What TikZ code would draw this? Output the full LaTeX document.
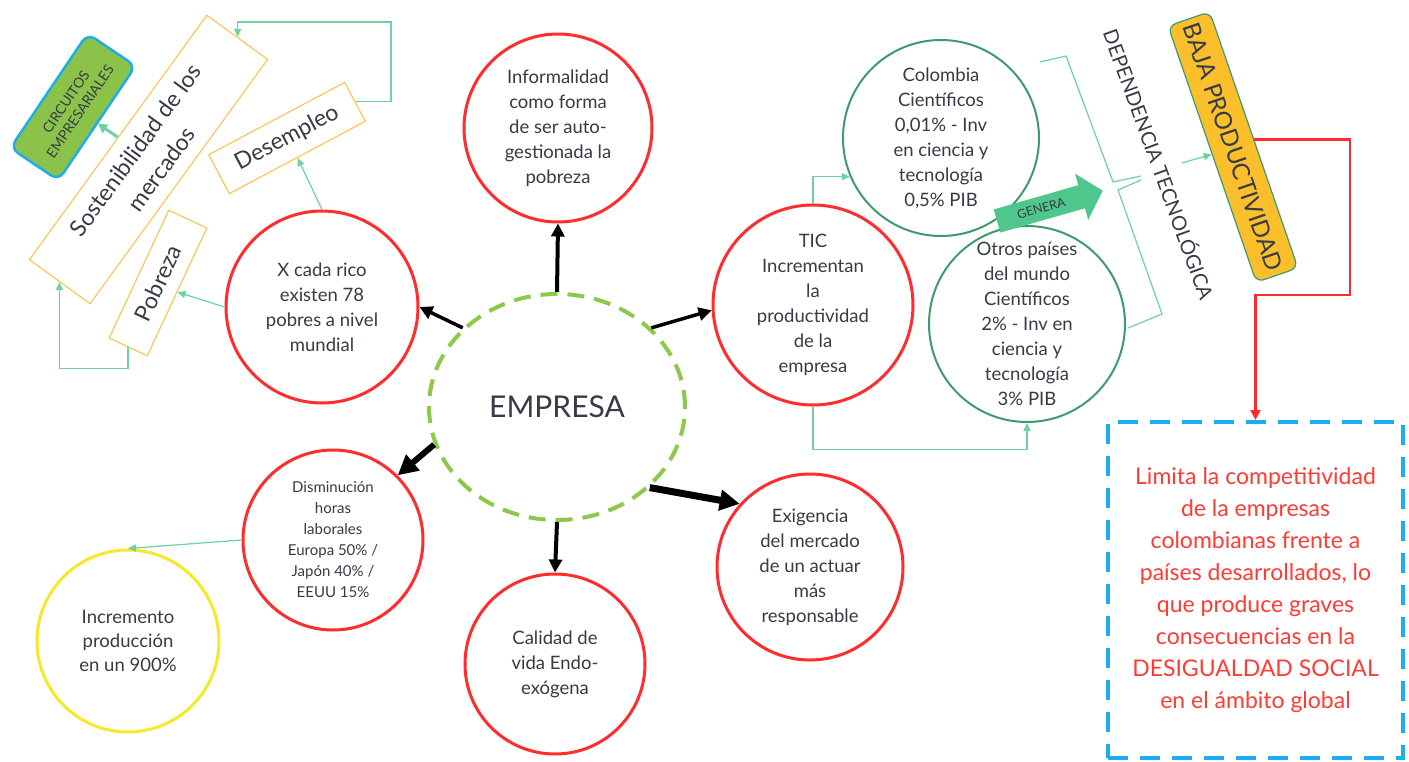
\documentclass[tikz,border=0pt]{standalone}
\usepackage{fontspec}
\setmainfont{Lato}
\usetikzlibrary{arrows.meta,shapes.geometric,calc}

\definecolor{redc}{HTML}{FF2D2D}
\definecolor{grnc}{HTML}{3E9B6C}
\definecolor{mint}{HTML}{6CD39E}
\definecolor{lime}{HTML}{8DC84A}
\definecolor{ylw}{HTML}{F8E82C}
\definecolor{orng}{HTML}{FBBF2C}
\definecolor{boxo}{HTML}{FBC75A}
\definecolor{blu}{HTML}{1CAEEC}
\definecolor{txt}{HTML}{363B45}
\definecolor{genf}{HTML}{4FC78C}
\definecolor{circf}{HTML}{8BC34A}
\definecolor{limred}{HTML}{FF3B35}

\tikzset{
  ringtext/.style={text=txt, align=center, inner sep=0pt},
  redcirc/.style={circle, draw=redc, line width=3pt, minimum size=#1, ringtext,
    font=\fontsize{18.5}{25}\selectfont},
  grncirc/.style={circle, draw=grnc, line width=2pt, minimum size=#1, ringtext,
    font=\fontsize{18.5}{25}\selectfont},
  obox/.style={draw=boxo, line width=1.2pt, fill=white, text=txt, align=center, inner sep=2pt},
  bk/.style={draw=black, line width=#1, -{Triangle[length=13pt,width=13pt]}},
  bkbig/.style={draw=black, line width=#1, -{Triangle[length=20pt,width=20pt]}},
  mintar/.style={draw=mint, line width=1.2pt, -{Triangle[length=8pt,width=7pt]}},
}

\begin{document}
\begin{tikzpicture}[x=1pt,y=-1pt]
\path[use as bounding box, fill=white] (0,0) rectangle (1409,761);

% central node
\node[ellipse, draw=lime, line width=4pt, dash pattern=on 17pt off 10pt,
  minimum width=256pt, minimum height=226pt, text=txt,
  font=\fontsize{30}{34}\selectfont] (emp) at (557,407) {EMPRESA};

% red circles around the centre
\node[redcirc=188pt] (inf) at (558,128)
  {Informalidad\\como forma\\de ser auto-\\gestionada la\\pobreza};
\node[redcirc=192pt] (rico) at (322,307)
  {X cada rico\\existen 78\\pobres a nivel\\mundial};
\node[redcirc=200pt] (tic) at (813,305)
  {TIC\\Incrementan\\la\\productividad\\de la\\empresa};
\node[redcirc=180pt, font=\fontsize{15}{21}\selectfont] (dism) at (333,540)
  {Disminución\\horas\\laborales\\Europa 50\% /\\Japón 40\% /\\EEUU 15\%};
\node[redcirc=180pt] (cal) at (555,664)
  {Calidad de\\vida Endo-\\exógena};
\node[redcirc=186pt] (exig) at (810,567)
  {Exigencia\\del mercado\\de un actuar\\más\\responsable};

% yellow circle
\node[circle, draw=ylw, line width=3pt, minimum size=182pt, ringtext,
  font=\fontsize{18.5}{24}\selectfont] (inc) at (128,641)
  {Incremento\\producción\\en un 900\%};

% green circles
\node[grncirc=196pt] (col) at (941,138)
  {Colombia\\Científicos\\0,01\% - Inv\\en ciencia y\\tecnología\\0,5\% PIB};
\node[grncirc=196pt] (otr) at (1027,324)
  {Otros países\\del mundo\\Científicos\\2\% - Inv en\\ciencia y\\tecnología\\3\% PIB};

% GENERA block arrow
\begin{scope}[shift={(997,221)}, rotate=16]
  \fill[genf] (0,-12) -- (88,-12) -- (88,-24) -- (110,0) -- (88,24) -- (88,12) -- (0,12) -- cycle;
  \node[transform shape, text=txt, font=\fontsize{12.5}{14}\selectfont] (gen) at (46,0) {GENERA};
\end{scope}

% tilted boxes on the left
\node[draw=blu, fill=circf, line width=2.5pt, rounded corners=9pt,
  minimum width=138pt, minimum height=58pt, rotate=56, align=center, text=txt,
  font=\fontsize{14}{17}\selectfont] (circ) at (73,107) {CIRCUITOS\\EMPRESARIALES};
\node[obox, minimum width=302pt, minimum height=75pt, rotate=54,
  font=\fontsize{23}{32}\selectfont] (sost) at (148.5,159.5) {Sostenibilidad de los\\mercados};
\node[obox, minimum width=154pt, minimum height=44pt, rotate=28,
  font=\fontsize{23}{26}\selectfont] (des) at (287,138) {Desempleo};
\node[obox, minimum width=141pt, minimum height=42pt, rotate=65,
  font=\fontsize{23}{26}\selectfont] (pob) at (158,283) {Pobreza};

% right column
\node[draw=grnc, fill=orng, line width=1.2pt, rounded corners=8pt,
  minimum width=271pt, minimum height=44pt, rotate=-71, text=txt,
  font=\fontsize{24}{26}\selectfont] (baja) at (1233,147) {BAJA PRODUCTIVIDAD};
\node[rotate=-70, text=txt, font=\fontsize{20}{22}\selectfont] (dep) at (1160,164)
  {DEPENDENCIA TECNOLÓGICA};

\node[draw=blu, line width=4pt, dash pattern=on 20pt off 12pt,
  minimum width=295pt, minimum height=336pt, text=limred, align=center,
  font=\fontsize{23}{32}\selectfont] (lim) at (1255.5,590)
  {Limita la competitividad\\de la empresas\\colombianas frente a\\países desarrollados, lo\\que produce graves\\consecuencias en la\\DESIGUALDAD SOCIAL\\en el ámbito global};

% brace grouping the two green circles
\draw[mint, line width=1.2pt] (1040,62) -- (1066,56) -- (1113,182) -- (1141,176);
\draw[mint, line width=1.2pt] (1141,180) -- (1118,190) -- (1162,314) -- (1128,328);
\coordinate (brk) at (1182,163);
\draw[mintar] (brk) -- (baja.south);

% black arrows from the centre
\draw[bk=4pt] (emp.north) -- (inf.south);
\draw[bk=3.5pt] (emp.140) -- (rico.east);
\draw[bk=3.5pt] (emp.40) -- (tic.183);
\draw[bkbig=6pt] (emp.197) -- (dism.45);
\draw[bk=4pt] (emp.south) -- (cal.north);
\draw[bkbig=7pt] (emp.-41) -- (exig.138);

% thin green connectors
\draw[mintar] (rico.north) -- (des.south);
\draw[mintar] (rico.west) -- (pob.south);
\coordinate (dbend) at (391,22);
\draw[mintar] (des.east) -| (dbend) -| (sost.east);
\draw[mintar] (pob.west) -- ++(0,21) -| (sost.west);
\draw[draw=mint, line width=3pt, -{Triangle[length=9pt,width=10pt]}] (sost.north) -- (circ.south);
\draw[mintar] (dism.west) -- (inc.north);
\draw[mintar] (tic.north) |- (col.203);
\draw[mintar] (tic.south) -- ++(0,43) -| (otr.south);

% red connector to the conclusion box
\coordinate (rbend) at (1350,295);
\draw[draw=redc, line width=2.5pt, -{Triangle[length=10pt,width=10pt]}] (baja.north) -| (rbend) -| (lim.north);

\end{tikzpicture}
\end{document}
